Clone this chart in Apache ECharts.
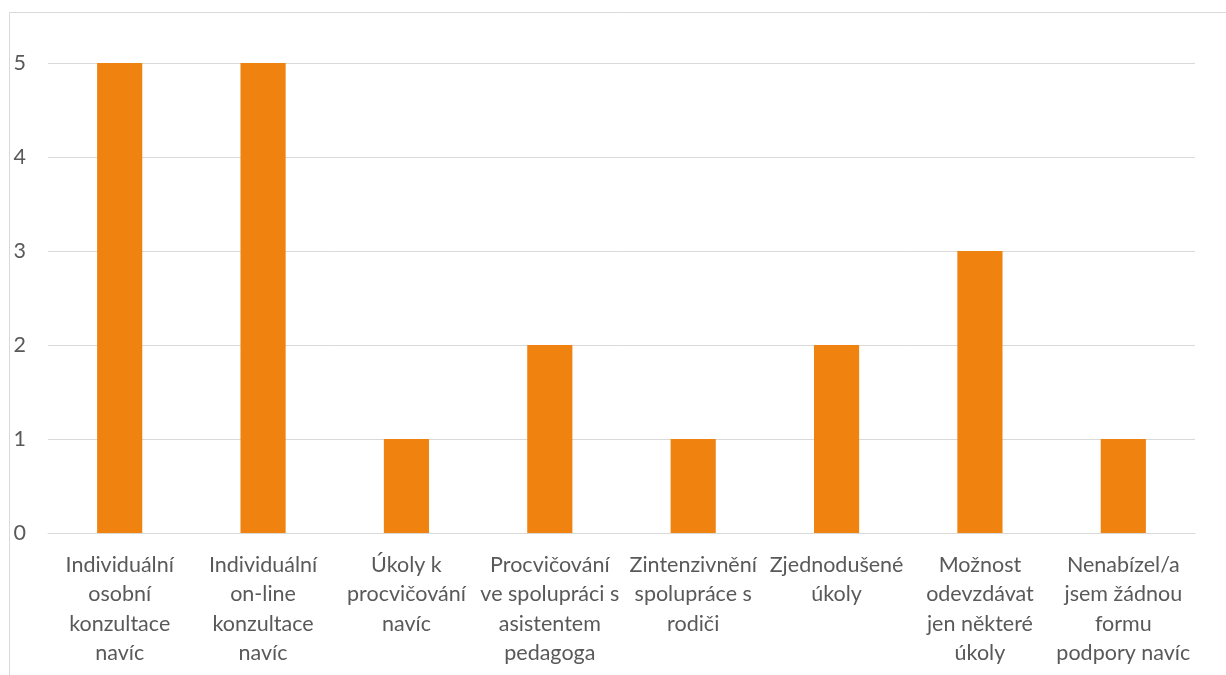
<!DOCTYPE html>
<html>
<head>
<meta charset="utf-8">
<script src="https://cdn.jsdelivr.net/npm/echarts@6/dist/echarts.min.js"></script>
<style>
html,body{margin:0;padding:0;background:#fff;}
#chart{width:1226px;height:675px;}
</style>
</head>
<body>
<div id="chart"></div>
<script>
const categories = [
  "Individuální\nosobní\nkonzultace\nnavíc",
  "Individuální\non-line\nkonzultace\nnavíc",
  "Úkoly k\nprocvičování\nnavíc",
  "Procvičování\nve spolupráci s\nasistentem\npedagoga",
  "Zintenzivnění\nspolupráce s\nrodiči",
  "Zjednodušené\núkoly",
  "Možnost\nodevzdávat\njen některé\núkoly",
  "Nenabízel/a\njsem žádnou\nformu\npodpory navíc"
];
const values = [5, 5, 1, 2, 1, 2, 3, 1];
const yTicks = { min: 0, max: 5, interval: 1 };

const chart = echarts.init(document.getElementById('chart'), null, {renderer: 'canvas'});
const FONT = 'Lato';
chart.setOption({
  animation: false,
  backgroundColor: '#ffffff',
  graphic: [{
    type: 'rect',
    shape: {x: 9.5, y: 12.5, width: 1400, height: 900},
    style: {fill: 'none', stroke: '#d9d9d9', lineWidth: 1},
    silent: true
  }],
  grid: {left: 48, right: 31, top: 63, bottom: 142, containLabel: false},
  xAxis: {
    type: 'category',
    data: categories,
    axisLine: {show: true, lineStyle: {color: '#d9d9d9', width: 1}},
    axisTick: {show: false},
    axisLabel: {
      interval: 0,
      color: '#595959',
      fontFamily: FONT,
      fontSize: 21.5,
      lineHeight: 29.5,
      margin: 17
    }
  },
  yAxis: {
    type: 'value',
    min: yTicks.min,
    max: yTicks.max,
    interval: yTicks.interval,
    axisLine: {show: false},
    axisTick: {show: false},
    splitLine: {lineStyle: {color: '#d9d9d9', width: 1}},
    axisLabel: {color: '#595959', fontFamily: FONT, fontSize: 21.5, margin: 22}
  },
  series: [{
    type: 'bar',
    data: values,
    barWidth: '31.5%',
    itemStyle: {color: '#F0820F'}
  }]
});
</script>
</body>
</html>
